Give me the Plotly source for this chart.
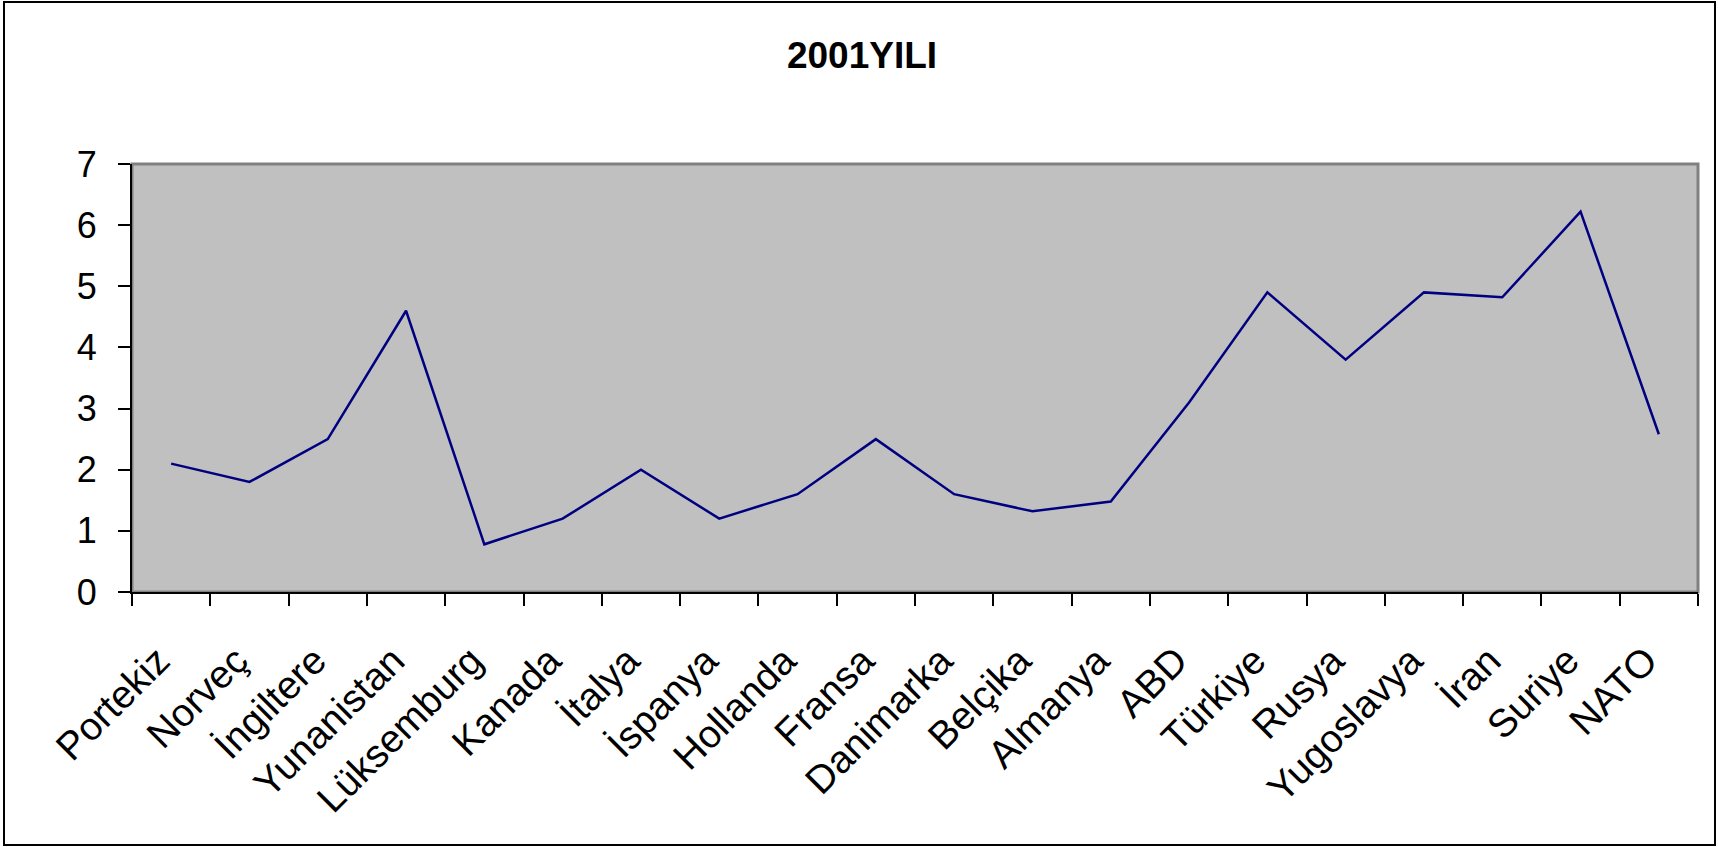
import plotly.graph_objects as go

# Country / group labels along the category axis
countries = [
    "Portekiz", "Norveç", "İngiltere", "Yunanistan", "Lüksemburg", "Kanada",
    "İtalya", "İspanya", "Hollanda", "Fransa", "Danimarka", "Belçika",
    "Almanya", "ABD", "Türkiye", "Rusya", "Yugoslavya", "İran", "Suriye", "NATO",
]

# 2001 values per country
values_2001 = [
    2.1, 1.8, 2.5, 4.6, 0.78, 1.2,
    2.0, 1.2, 1.6, 2.5, 1.6, 1.32,
    1.48, 3.1, 4.9, 3.8, 4.9, 4.82, 6.22, 2.58,
]

y_ticks = [0, 1, 2, 3, 4, 5, 6, 7]

W, H = 1718, 847
ML, MR, MT, MB = 132, 20, 164, 255
PW = W - ML - MR
PH = H - MT - MB


def px_x(px):
    return (px - ML) / PW


def px_y(py):
    return (H - MB - py) / PH


FONT = "Liberation Sans, Arial, sans-serif"

fig = go.Figure()
fig.add_trace(go.Scatter(
    x=countries,
    y=values_2001,
    mode="lines",
    line=dict(color="#000080", width=2.5),
    hoverinfo="x+y",
    showlegend=False,
))

fig.update_layout(
    width=W,
    height=H,
    margin=dict(l=ML, r=MR, t=MT, b=MB),
    paper_bgcolor="white",
    plot_bgcolor="#C0C0C0",
    title=dict(
        text="<b>2001YILI</b>",
        font=dict(family=FONT, size=37, color="black"),
        x=862 / W,
        xanchor="center",
        xref="container",
        y=1 - 55 / H,
        yanchor="middle",
        yref="container",
    ),
    xaxis=dict(
        type="category",
        range=[-0.5, len(countries) - 0.5],
        tickson="boundaries",
        ticks="outside",
        ticklen=12,
        tickwidth=1.5,
        tickcolor="black",
        tickangle=-45,
        tickfont=dict(family=FONT, size=39, color="black"),
        ticklabelstandoff=28,
        ticklabelshift=-13,
        showline=True,
        linecolor="black",
        linewidth=2,
        showgrid=False,
        zeroline=False,
        fixedrange=True,
    ),
    yaxis=dict(
        range=[0, 7],
        tickvals=y_ticks,
        ticks="outside",
        ticklen=12,
        tickwidth=1.5,
        tickcolor="black",
        tickfont=dict(family=FONT, size=36, color="black"),
        ticklabelstandoff=14,
        showline=True,
        linecolor="black",
        linewidth=2,
        showgrid=False,
        zeroline=False,
        fixedrange=True,
    ),
    shapes=[
        # gray frame of the plot area
        dict(type="rect", xref="paper", yref="paper",
             x0=0, x1=1, y0=0, y1=1,
             line=dict(color="#808080", width=3),
             fillcolor="rgba(0,0,0,0)", layer="below"),
        # outer chart border
        dict(type="rect", xref="paper", yref="paper",
             x0=px_x(4), x1=px_x(1715), y0=px_y(845), y1=px_y(2),
             line=dict(color="black", width=2),
             fillcolor="rgba(0,0,0,0)", layer="above"),
    ],
)

fig.write_html("out.html")
